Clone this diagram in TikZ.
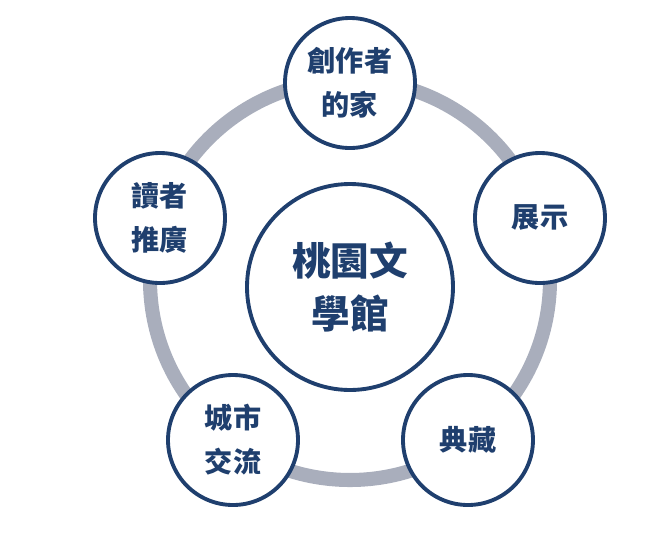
\documentclass[tikz,border=0pt]{standalone}
\usepackage{fontspec}
\newfontfamily\cjk{Noto Sans CJK TC}
\newfontfamily\cjkmed{Noto Sans CJK TC Medium}
\definecolor{navy}{HTML}{1F3F6E}
\definecolor{ringgray}{HTML}{A9AEBC}
\begin{document}
\begin{tikzpicture}[x=0.02cm,y=-0.02cm]
\tikzstyle{hub}=[draw=navy,line width=2.2pt,circle,fill=white,minimum size=206*0.02cm,font=\cjk\fontsize{22}{30}\selectfont\bfseries,text=navy,align=center]
\tikzstyle{part}=[draw=navy,line width=2.2pt,circle,fill=white,minimum size=130*0.02cm,font=\cjk\fontsize{16}{25}\selectfont\bfseries,text=navy,align=center]
\useasboundingbox (0,0) rectangle (667,538);
\draw [ringgray,line width=8pt] (350,280) circle [radius=200*0.02cm];
\node [hub] (center) at (350,287) {桃園文\\學館};
\node [part] (home) at (350,83) {創作者\\的家};
\node [part] (show) at (540,218) {展示};
\node [part] (keep) at (468,440) {典藏};
\node [part] (city) at (233,440) {城市\\交流};
\node [part] (read) at (160,218) {讀者\\推廣};
\end{tikzpicture}
\end{document}
